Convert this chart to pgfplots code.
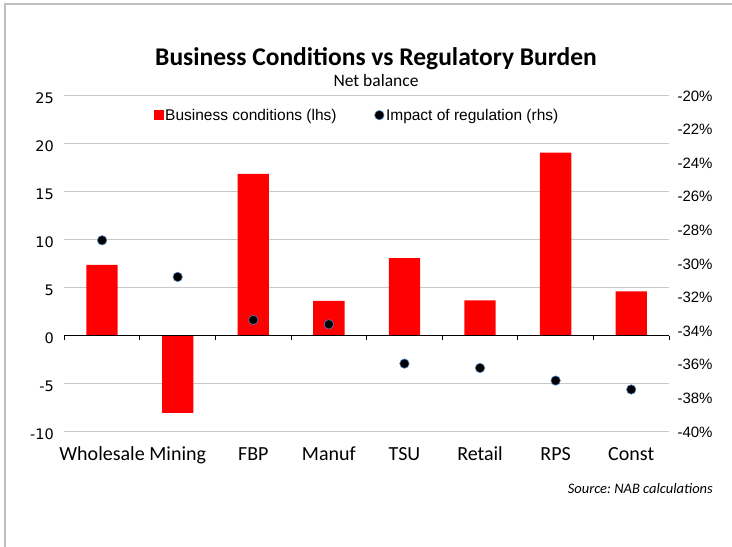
\documentclass[border=0pt]{standalone}
\usepackage{pgfplots}
\pgfplotsset{compat=1.18}
\usepackage{fontspec}
\setmainfont{Carlito}
\newfontfamily\arialf{Liberation Sans}
\newfontfamily\dejavu{DejaVu Sans}
\definecolor{bordergray}{RGB}{191,191,191}
\definecolor{gridgray}{RGB}{200,200,200}
\definecolor{dotedge}{RGB}{79,129,189}
\begin{document}
\begin{tikzpicture}[x=1bp,y=1bp]
\path[use as bounding box] (0,0) rectangle (732,547);
\draw[bordergray, line width=2bp] (4.5,0) -- (4.5,543);
\draw[bordergray, line width=2bp] (3.5,543) -- (732,543);
\node[anchor=base, font=\fontsize{25.5bp}{30bp}\selectfont\bfseries] at (376,481) {Business Conditions vs Regulatory Burden};
\node[anchor=base, font=\fontsize{17.5bp}{20bp}\selectfont] at (376,460) {Net balance};
\node[anchor=base east, font=\fontsize{14.5bp}{17bp}\selectfont\itshape, inner sep=0pt] at (713,53) {\frenchspacing Source: NAB calculations};

\begin{axis}[
  at={(64.3bp,115bp)}, anchor=south west,
  width=604.7bp, height=336bp, scale only axis,
  xmin=-0.5, xmax=7.5, ymin=-10, ymax=25,
  axis line style={draw=none},
  major tick length=0pt,
  xtick={0,1,2,3,4,5,6,7},
  xticklabels={Wholesale,Mining,FBP,Manuf,TSU,Retail,RPS,Const},
  xticklabel style={anchor=base, yshift=-29bp, font=\fontsize{20bp}{24bp}\selectfont},
  ytick={-10,-5,5,10,15,20,25},
  yticklabels={-10,-5,5,10,15,20,25},
  extra y ticks={0}, extra y tick labels={0},
  extra y tick style={grid=none},
  yticklabel style={font=\dejavu\fontsize{14.5bp}{17bp}\selectfont, xshift=-7bp, yshift=-2bp},
  ymajorgrids, grid style={gridgray, line width=1bp},
  clip=false,
]
\addplot[ybar, bar width=31.3bp, bar shift=0pt, fill=red, draw=none] coordinates {
  (0,7.4) (1,-8.0) (2,16.9) (3,3.67) (4,8.1) (5,3.72) (6,19.1) (7,4.65)};
\draw[black, line width=1bp] (axis cs:-0.5,0) -- (axis cs:7.5,0);
\pgfplotsinvokeforeach{-0.5,0.5,1.5,2.5,3.5,4.5,5.5,6.5,7.5}{
  \draw[black, line width=1bp] (axis cs:#1,0) -- ([yshift=-4bp]axis cs:#1,0);
}
\end{axis}

\begin{axis}[
  at={(64.3bp,115bp)}, anchor=south west,
  width=604.7bp, height=336bp, scale only axis,
  xmin=-0.5, xmax=7.5, ymin=-40, ymax=-20,
  axis line style={draw=none},
  major tick length=0pt,
  xtick=\empty,
  axis y line*=right,
  ytick={-40,-38,-36,-34,-32,-30,-28,-26,-24,-22,-20},
  yticklabels={-40\%,-38\%,-36\%,-34\%,-32\%,-30\%,-28\%,-26\%,-24\%,-22\%,-20\%},
  yticklabel style={font=\arialf\fontsize{15bp}{18bp}\selectfont, xshift=5bp},
  clip=false,
  legend columns=2,
  legend style={at={(0.4845,0.943)}, anchor=center, draw=none, fill=none,
    font=\arialf\fontsize{15.5bp}{18bp}\selectfont,
    /tikz/every even column/.append style={column sep=36bp}},
]
\addlegendimage{only marks, mark=square*, mark size=4.5bp, mark options={fill=red, draw=red}}
\addlegendentry{Business conditions (lhs)}
\addplot[only marks, mark=*, mark size=4.7bp, mark options={fill=black, draw=dotedge, line width=0.6bp}] coordinates {
  (0,-28.59) (1,-30.77) (2,-33.33) (3,-33.59) (4,-35.93) (5,-36.19) (6,-36.94) (7,-37.47)};
\addlegendentry{Impact of regulation (rhs)}
\end{axis}
\end{tikzpicture}
\end{document}
